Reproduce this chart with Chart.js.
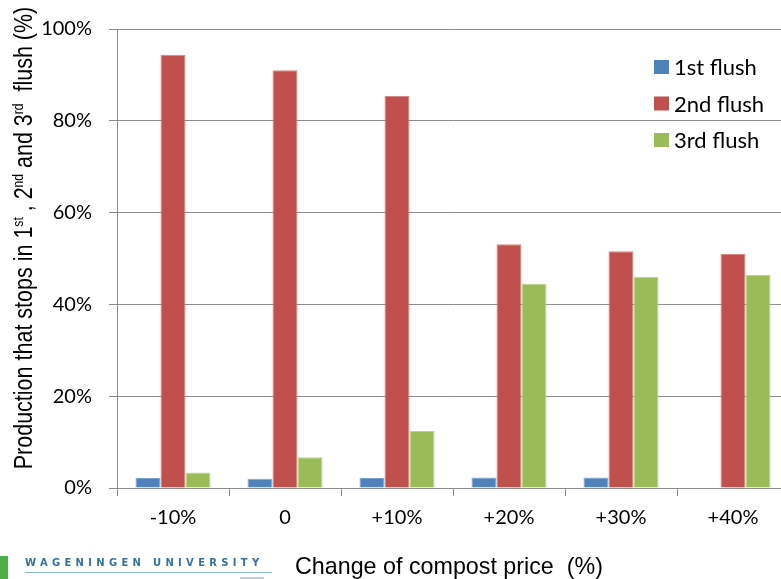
<!DOCTYPE html>
<html>
<head>
<meta charset="utf-8">
<script src="https://cdn.jsdelivr.net/npm/chart.js@4"></script>
<style>
  html, body { margin: 0; padding: 0; background: #fff; overflow: hidden; width: 781px; height: 579px; }
  #wrap { position: absolute; left: 0; top: 0; width: 800px; height: 579px; }
  #logo-bar { position: absolute; left: 0; top: 556px; width: 8px; height: 23px; background: #4fae48; }
  #logo-text { position: absolute; left: 25px; top: 557px; font: bold 10px "DejaVu Sans", sans-serif; letter-spacing: 4.3px; color: #35729f; white-space: nowrap; }
  #logo-rule { position: absolute; left: 25px; top: 572px; width: 247px; height: 1px; background: #8fb3cc; }
  #logo-rule2 { position: absolute; left: 240px; top: 577px; width: 24px; height: 2px; background: #b9d2e2; }
</style>
</head>
<body>
<div id="wrap"><canvas id="c" width="800" height="579"></canvas></div>
<div id="logo-bar"></div>
<div id="logo-text">WAGENINGEN UNIVERSITY</div>
<div id="logo-rule"></div>
<div id="logo-rule2"></div>
<script>
// Share of production that stops after each flush, by change of compost price
const categories = ['-10%', '0', '+10%', '+20%', '+30%', '+40%'];
const seriesNames = ['1st flush', '2nd flush', '3rd flush'];
const firstFlush  = [2.2, 2.0, 2.2, 2.3, 2.3, 0];
const secondFlush = [94.4, 91.0, 85.4, 53.1, 51.6, 51.0];
const thirdFlush  = [3.4, 6.7, 12.4, 44.5, 46.0, 46.4];
const yTicks = [0, 20, 40, 60, 80, 100];

const colors = ['#4f81bd', '#c0504d', '#9bbb59'];
const edges  = ['#7fa3cf', '#d68784', '#bcd48e'];

const tickFont = { family: 'Lato, "Open Sans", sans-serif', size: 20 };
const titleFamily = '"Liberation Sans", Arial, sans-serif';

// Rotated y-axis title with superscript ordinals, slightly condensed
const yTitlePlugin = {
  id: 'yTitle',
  afterDraw(chart) {
    const ctx = chart.ctx;
    const parts = [
      ['Production that stops in 1', false], ['st', true], [' , 2', false], ['nd', true],
      [' and 3', false], ['rd', true], ['  flush (%)', false]
    ];
    const base = 25, sup = 14;
    ctx.save();
    let total = 0;
    parts.forEach(([t, s]) => {
      ctx.font = (s ? sup : base) + 'px ' + titleFamily;
      total += ctx.measureText(t).width;
    });
    ctx.translate(32, 238);
    ctx.rotate(-Math.PI / 2);
    ctx.scale(0.86, 1);
    ctx.fillStyle = '#000';
    ctx.textBaseline = 'alphabetic';
    let x = -total / 2;
    parts.forEach(([t, s]) => {
      ctx.font = (s ? sup : base) + 'px ' + titleFamily;
      ctx.fillText(t, x, s ? -9 : 0);
      x += ctx.measureText(t).width;
    });
    ctx.restore();
  }
};

// X-axis title below the category labels
const xTitlePlugin = {
  id: 'xTitle',
  afterDraw(chart) {
    const ctx = chart.ctx;
    ctx.save();
    ctx.font = '24px ' + titleFamily;
    ctx.fillStyle = '#000';
    ctx.textBaseline = 'alphabetic';
    ctx.textAlign = 'left';
    ctx.translate(295, 574);
    ctx.scale(0.97, 1);
    ctx.fillText('Change of compost price  (%)', 0, 0);
    ctx.restore();
  }
};

// Legend inside the plot area, top right
const legendPlugin = {
  id: 'boxLegend',
  afterDraw(chart) {
    const ctx = chart.ctx;
    ctx.save();
    ctx.font = '22px Lato, "Open Sans", sans-serif';
    ctx.textBaseline = 'middle';
    chart.data.datasets.forEach((ds, i) => {
      const cy = 67 + i * 36.5;
      ctx.fillStyle = ds.backgroundColor;
      ctx.fillRect(654, cy - 7, 15, 14);
      ctx.fillStyle = '#000';
      ctx.fillText(ds.label, 674, cy + 1);
    });
    ctx.restore();
  }
};

const seriesValues = [firstFlush, secondFlush, thirdFlush];

new Chart(document.getElementById('c'), {
  type: 'bar',
  data: {
    labels: categories,
    datasets: seriesNames.map((name, i) => ({
      label: name,
      data: seriesValues[i],
      backgroundColor: colors[i],
      borderColor: edges[i],
      borderWidth: 1,
      borderSkipped: 'bottom',
      barPercentage: 1,
      categoryPercentage: 0.67
    }))
  },
  options: {
    responsive: false,
    animation: false,
    layout: { padding: { left: 0, top: 26, right: 11, bottom: 0 } },
    plugins: { legend: { display: false }, tooltip: { enabled: false } },
    scales: {
      x: {
        grid: { offset: true, drawOnChartArea: false, drawTicks: true, tickLength: 8, color: '#8c8c8c' },
        border: { color: '#8c8c8c', width: 1 },
        ticks: { font: tickFont, color: '#000', padding: 10 },
        afterFit(scale) { scale.height = 91; }
      },
      y: {
        min: 0, max: 100,
        afterBuildTicks(scale) { scale.ticks = yTicks.map(v => ({ value: v })); },
        grid: { color: '#8c8c8c', tickLength: 8, drawTicks: true },
        border: { color: '#8c8c8c', width: 1 },
        ticks: { font: tickFont, color: '#000', padding: 17, callback: v => v + '%' },
        afterFit(scale) { scale.width = 117; }
      }
    }
  },
  plugins: [yTitlePlugin, xTitlePlugin, legendPlugin]
});
</script>
</body>
</html>
